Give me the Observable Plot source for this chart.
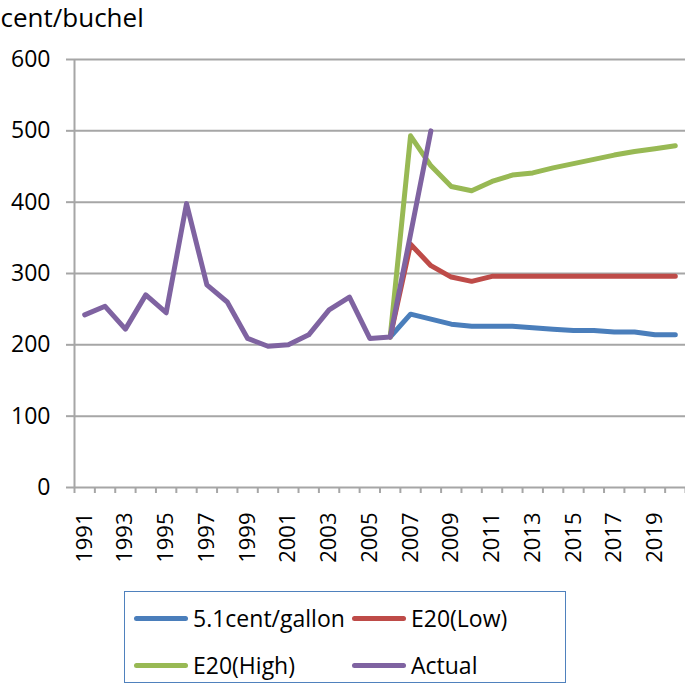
<!DOCTYPE html>
<html>
<head>
<meta charset="utf-8">
<script src="https://cdn.jsdelivr.net/npm/d3@7"></script>
<script src="https://cdn.jsdelivr.net/npm/@observablehq/plot@0.6"></script>
<style>
  html, body { margin: 0; padding: 0; background: #fff; }
  #wrap { position: relative; width: 685px; height: 685px; font-family: "Open Sans", sans-serif; }
  #legend { position: absolute; left: 124px; top: 591px; width: 442px; height: 92px; box-sizing: border-box; border: 1.5px solid #4F81BD; }
  .sw { position: absolute; width: 54px; height: 5px; border-radius: 3px; }
  .lb { position: absolute; font-size: 23px; line-height: 26px; color: #000; white-space: nowrap; }
</style>
</head>
<body>
<div id="wrap"><div id="chart"></div><div id="legend"></div></div>
<script>
const years = [1991,1992,1993,1994,1995,1996,1997,1998,1999,2000,2001,2002,2003,2004,2005,2006,2007,2008,2009,2010,2011,2012,2013,2014,2015,2016,2017,2018,2019,2020];
const yearLabels = [1991,1993,1995,1997,1999,2001,2003,2005,2007,2009,2011,2013,2015,2017,2019];
const yTicks = [0,100,200,300,400,500,600];

const actualYears = [1991,1992,1993,1994,1995,1996,1997,1998,1999,2000,2001,2002,2003,2004,2005,2006,2007,2008];
const actual = [242,254,222,270,245,398,284,260,209,198,200,214,249,267,209,211,355,500];

const scenarioYears = [2006,2007,2008,2009,2010,2011,2012,2013,2014,2015,2016,2017,2018,2019,2020];
const cent51 = [211,243,236,229,226,226,226,224,222,220,220,218,218,214,214];
const e20Low = [211,341,311,295,289,296,296,296,296,296,296,296,296,296,296];
const e20High = [211,493,451,422,416,429,438,441,448,454,460,466,471,475,479];

const seriesNames = ["5.1cent/gallon","E20(Low)","E20(High)","Actual"];
const seriesColors = ["#4A7EBB","#BE4B48","#98B954","#7F63A1"];

const rows = (xs, vs, name) => xs.map((x, i) => ({year: x, value: vs[i], series: name}));
const data = [
  ...rows(scenarioYears, cent51, seriesNames[0]),
  ...rows(scenarioYears, e20Low, seriesNames[1]),
  ...rows(scenarioYears, e20High, seriesNames[2]),
  ...rows(actualYears, actual, seriesNames[3])
];
const boundaries = years.map(y => y - 0.5).concat([years[years.length - 1] + 0.5]);
const gray = "#A6A6A6";

const chart = Plot.plot({
  width: 685, height: 590,
  marginLeft: 74, marginRight: 0, marginTop: 59, marginBottom: 103,
  style: {fontFamily: "Open Sans, sans-serif", background: "#fff", color: "#000"},
  x: {domain: [1990.5, 2020.5], axis: null},
  y: {domain: [0, 600], axis: null},
  color: {domain: seriesNames, range: seriesColors},
  marks: [
    Plot.ruleY(yTicks.filter(v => v > 0), {stroke: gray, strokeWidth: 2}),
    Plot.ruleX([1990.5], {stroke: gray, strokeWidth: 2}),
    Plot.ruleY([0], {stroke: gray, strokeWidth: 2}),
    Plot.axisY({ticks: yTicks, tickSize: 8, tickPadding: 16, stroke: gray, strokeWidth: 2, fill: "#000", fontSize: 23, label: null, tickFormat: d => String(d)}),
    Plot.axisX({ticks: boundaries, tickSize: 6, stroke: gray, strokeWidth: 2, tickFormat: () => "", label: null}),
    Plot.text(yearLabels, {x: d => d, y: 0, text: d => String(d), dy: 25, rotate: -90, textAnchor: "end", lineAnchor: "middle", fontSize: 22, fill: "#000"}),
    Plot.text(["cent/buchel"], {frameAnchor: "top-left", dx: -74, dy: -41, textAnchor: "start", lineAnchor: "middle", fontSize: 26, fill: "#000"}),
    ...seriesNames.map(name => Plot.line(data.filter(d => d.series === name), {x: "year", y: "value", stroke: d => d.series, strokeWidth: 5, strokeLinejoin: "round", strokeLinecap: "round"}))
  ]
});
document.getElementById("chart").appendChild(chart);

const legend = document.getElementById("legend");
const pos = [[9, 26, 68], [227, 26, 286], [9, 73, 68], [227, 73, 286]];
seriesNames.forEach((name, i) => {
  const [lx, cy, tx] = pos[i];
  const sw = document.createElement("div");
  sw.className = "sw";
  sw.style.left = lx + "px"; sw.style.top = (cy - 2.5) + "px"; sw.style.background = seriesColors[i];
  legend.appendChild(sw);
  const lb = document.createElement("div");
  lb.className = "lb";
  lb.style.left = tx + "px"; lb.style.top = (cy - 13) + "px";
  lb.textContent = name;
  legend.appendChild(lb);
});
</script>
</body>
</html>
